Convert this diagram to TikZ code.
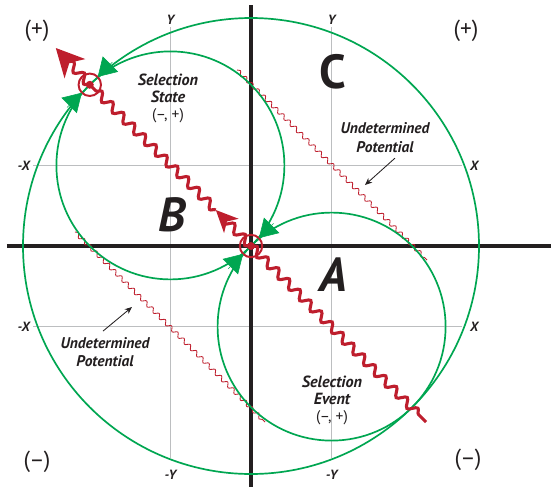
\documentclass[tikz,border=0pt]{standalone}
\usepackage{fontspec}
\setmainfont{PT Sans}
\usetikzlibrary{arrows.meta,decorations.pathmorphing,calc}
\definecolor{chartink}{HTML}{231F20}
\definecolor{chartgreen}{HTML}{00A651}
\definecolor{chartred}{HTML}{BE1E2D}
\definecolor{chartgrid}{HTML}{BCBEC0}
\newcommand{\gridcol}[2]{%
  \draw[chartgrid, line width=1pt] (#2,5.475) -- (#2,-5.3);
  \node[axislabel] (#1n) at (#2,5.65) {Y};
  \node[axislabel] (#1s) at (#2,-5.72) {-Y};
}
\newcommand{\gridrow}[2]{%
  \draw[chartgrid, line width=1pt] (-5.45,#2) -- (5.275,#2);
  \node[axislabel] (#1w) at (-5.68,#2) {-X};
  \node[axislabel] (#1e) at (5.58,#2) {X};
}
\newcommand{\hitmark}[2]{%
  \coordinate (#1) at (#2);
  \draw[chartred, line width=1.4pt] (#1) circle (0.28);
  \fill[chartred] (#1) circle (0.1);
}
\newcommand{\greenhead}[2]{%
  \draw[chartgreen, line width=0.4pt, -{Triangle[length=4.5mm,width=5.4mm]}]
    ($(#1)+(#2:0.8)$) -- ($(#1)+(#2:0.28)$);
}

\begin{document}
\begin{tikzpicture}[x=1cm, y=1cm, every node/.style={text=chartink},
  axislabel/.style={font=\fontsize{9.5}{10}\selectfont\bfseries\itshape},
  bigletter/.style={font=\fontsize{34}{34}\selectfont\bfseries\itshape},
  cornerlabel/.style={font=\fontsize{16.5}{16}\selectfont},
  selnote/.style={align=center, font=\fontsize{11.5}{12}\selectfont\bfseries\itshape},
  potnote/.style={align=center, font=\fontsize{11}{13}\selectfont\bfseries\itshape},
  greenring/.style={chartgreen, line width=1.2pt},
  thinwave/.style={chartred, line width=0.6pt, decorate,
    decoration={snake, amplitude=0.05cm, segment length=0.22cm}},
  thickwave/.style={chartred, line width=2.2pt, decorate,
    decoration={snake, amplitude=0.1cm, segment length=0.38cm, post length=2mm}},
  pointer/.style={chartink, line width=0.6pt, -{Stealth[length=1.8mm,width=1.5mm]}}]

  \useasboundingbox (-6.275,-6.075) rectangle (7.5,6.15);

  \gridcol{ql}{-2.015}
  \gridcol{qr}{2.015}
  \gridrow{qt}{2.015}
  \gridrow{qb}{-2.015}

  \draw[chartink, line width=3pt] (0,6.025) -- (0,-6.025);
  \draw[chartink, line width=3pt] (-6.1,0) -- (7.5,0);

  \draw[thinwave] (-0.35,4.4) -- (4.4,-0.35);
  \draw[thinwave] (-4.4,0.35) -- (0.35,-4.4);

  \draw[greenring] (0,0) circle (5.7);
  \draw[greenring] (-2.015,2.015) circle (2.85);
  \draw[greenring] (2.015,-2.015) circle (2.85);

  \coordinate (origin) at (0,0);
  \coordinate (state) at (-4.0305,4.0305);
  \coordinate (event-end) at (4.375,-4.4);
  \coordinate (mid-tip) at (-0.88,0.9);
  \coordinate (state-tip) at (-4.88,4.95);
  \draw[thickwave] (origin) -- (event-end);
  \draw[thickwave, -{Stealth[length=5.5mm,width=5mm,inset=1.5mm]}] (origin) -- (mid-tip);
  \draw[thickwave] (mid-tip) -- (state);
  \draw[thickwave, -{Stealth[length=7mm,width=7mm,inset=2mm]}] (state) -- (state-tip);

  \hitmark{origin}{0,0}
  \hitmark{state}{-4.0305,4.0305}

  \greenhead{origin}{45}
  \greenhead{origin}{225}
  \greenhead{state}{45}
  \greenhead{state}{225}

  \node[bigletter, font=\fontsize{34}{34}\selectfont\bfseries] (lbl-c) at (2.05,4.35) {C};
  \node[bigletter] (lbl-b) at (-1.975,0.775) {B};
  \node[bigletter] (lbl-a) at (2.05,-0.725) {A};

  \node[selnote] (state-note) at (-2.075,3.69)
    {Selection\\State\\{\normalfont\fontsize{11}{12}\selectfont(–, +)}};
  \node[selnote] (event-note) at (2.025,-3.86)
    {Selection\\Event\\{\normalfont\fontsize{11}{12}\selectfont(–, +)}};

  \node[potnote] (pot-up) at (3.35,2.71) {Undetermined\\Potential};
  \node[potnote] (pot-low) at (-3.65,-2.66) {Undetermined\\Potential};
  \coordinate (pot-up-tip) at (2.85,1.525);
  \coordinate (pot-low-tip) at (-2.975,-1.525);
  \draw[pointer] (pot-up.south) ++(0.25,-0.02) -- (pot-up-tip);
  \draw[pointer] (pot-low.north) ++(-0.05,0.04) -- (pot-low-tip);

  \node[cornerlabel] (plus-nw) at (-5.35,5.37) {(+)};
  \node[cornerlabel] (plus-ne) at (5.375,5.37) {(+)};
  \node[cornerlabel] (minus-sw) at (-5.35,-5.4) {(–)};
  \node[cornerlabel] (minus-se) at (5.425,-5.35) {(–)};

\end{tikzpicture}
\end{document}
